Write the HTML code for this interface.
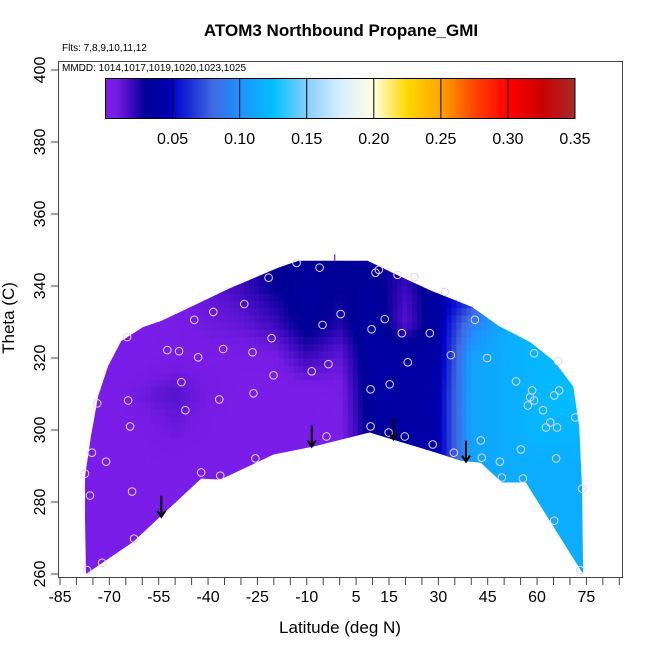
<!DOCTYPE html>
<html><head><meta charset="utf-8"><style>
html,body{margin:0;padding:0;background:#fff;}
svg{display:block;font-family:"Liberation Sans",Arial,sans-serif;}
</style></head><body>
<svg id="chart" width="650" height="650" viewBox="0 0 650 650" xmlns="http://www.w3.org/2000/svg">
<defs><clipPath id="fieldclip"><polygon id="clipPoly" points=""/></clipPath>
<linearGradient id="cbgrad" x1="0" x2="1" y1="0" y2="0"></linearGradient></defs>
<text x="341" y="36" text-anchor="middle" font-size="17" font-weight="bold">ATOM3 Northbound Propane_GMI</text>
<text x="62" y="51" font-size="10">Flts: 7,8,9,10,11,12</text>
<g id="field" clip-path="url(#fieldclip)"></g>
<g id="points"></g>
<g id="arrows"></g>
<rect x="58.5" y="61.5" width="564" height="516" fill="none" stroke="#444" stroke-width="1"/>
<text x="62" y="71" font-size="10">MMDD: 1014,1017,1019,1020,1023,1025</text>
<g id="colorbar"></g>
<g id="xaxis"></g>
<g id="yaxis"></g>
<text x="340" y="633" text-anchor="middle" font-size="17">Latitude (deg N)</text>
<text transform="translate(14,318) rotate(-90)" text-anchor="middle" font-size="17">Theta (C)</text>
</svg>
<script>
const gridLats = [-80,-70,-60,-50,-40,-30,-20,-10,0,10,20,30,40,50,60,70,80];
const gridThetas = [350,340,330,320,310,300,290,280,270,260];
const gridValues = [
 [.005,.005,.005,.008,.012,.02,.03,.03,.03,.025,.03,.035,.04,.11,.115,.12,.12],
 [.003,.003,.005,.008,.012,.02,.03,.035,.03,.035,.02,.04,.05,.115,.115,.12,.12],
 [.003,.003,.005,.006,.01,.012,.02,.035,.025,.04,.015,.04,.09,.115,.12,.12,.12],
 [.003,.003,.004,.006,.006,.006,.006,.02,.012,.04,.04,.04,.11,.115,.12,.12,.12],
 [.003,.005,.01,.015,.008,.004,.003,.003,.005,.04,.04,.045,.11,.115,.12,.125,.125],
 [.003,.003,.006,.01,.006,.004,.003,.003,.005,.035,.04,.045,.11,.115,.12,.12,.12],
 [.003,.003,.004,.005,.004,.003,.003,.003,.005,.035,.04,.045,.11,.115,.115,.115,.115],
 [.003,.003,.003,.003,.003,.003,.003,.003,.005,.035,.04,.045,.11,.115,.115,.115,.115],
 [.003,.003,.003,.003,.003,.003,.003,.003,.005,.035,.04,.045,.11,.115,.115,.115,.115],
 [.003,.003,.003,.003,.003,.003,.003,.003,.005,.035,.04,.045,.11,.115,.115,.115,.115]
];
const boundaryLats = [-77.1,-62.8,-54.2,-42.1,-36.3,-20.1,-7.9,9.1,28.3,36.8,42.9,49.3,56.6,74,73.7,72.8,71,65.2,57.9,48.4,40.2,28,18,8.5,-12.5,-18.6,-33.8,-44.5,-54.2,-59.7,-66.4,-70.4,-73.4,-75.6,-77.4,-77.4];
const boundaryThetas = [260,268.9,276.2,286.5,286.2,293.2,295.4,299.3,294,291.5,290.9,285.4,285.4,260,283.4,301,312.1,319.1,324.4,328.9,334.2,338.6,342.8,347,347,345.1,339.2,334.5,330.3,328.6,324.7,317.7,309.4,298.2,287,275.9];
const pointLats = [-13.1,-6.1,-21.6,-29,-38.4,-44.2,0.3,-5.2,-20.7,-64.6,-52.4,-48.8,-43,-35.4,-26.5,-3.4,-8.5,-20.1,-48.1,-26.2,-36.6,-64.3,-73.7,-46.9,-63.7,-4,-75.3,-71,-25.6,-42.1,-36.3,-77.4,-75.9,-63.1,-62.5,-72.2,-76.8,
 10.9,11.9,17.6,22.8,32,13.7,9.7,18.9,27.4,41.1,33.8,44.8,20.7,59.1,66.4,53.6,58.5,66.7,65.2,57.9,59.1,57.2,61.8,71.6,64,62.7,66.1,9.4,15.2,9.4,14.9,19.8,42.9,28.3,55.1,34.7,43.2,48.7,65.8,49.3,55.7,73.7,65.2,73.1];
const pointThetas = [346.4,345.1,342.3,335,332.8,330.6,332.2,329.2,325.5,325.8,322.2,321.9,320.2,322.5,321.6,318.3,316.3,315.2,313.3,310.2,308.5,308.2,307.4,305.5,301,298.2,293.7,291.2,292.1,288.2,287.3,287.9,281.8,282.9,269.8,263.1,261.1,
 343.7,344.5,343.1,342.5,338.4,330.8,328,326.9,326.9,330.6,320.8,320,318.8,321.3,319.1,313.5,311,311,309.6,309.1,308.2,306.8,305.5,303.5,302.1,300.7,300.7,311.3,312.7,301,299.3,298.2,297.1,296,294.6,293.7,292.3,291.2,292.1,286.8,286.5,283.7,274.8,261.1];
const arrowLats = [-54.2,-8.5,16.4,38.4];
const arrowThetas = [275.9,295.4,297.4,291.2];
const xTickValues = [-85,-70,-55,-40,-25,-10,5,15,30,45,60,75];
const yTickValues = [260,280,300,320,340,360,380,400];
const cbTickValues = [0.05,0.10,0.15,0.20,0.25,0.30,0.35];
const cbStopValues = [0,0.008,0.02,0.03,0.045,0.05,0.08,0.10,0.125,0.15,0.175,0.2,0.225,0.25,0.275,0.3,0.325,0.35];
const cbStopColors = [[125,30,235],[118,28,228],[60,10,190],[0,0,150],[0,0,170],[0,0,205],[65,105,225],[30,144,255],[0,191,255],[135,206,250],[215,238,255],[255,255,224],[255,215,0],[255,165,0],[255,69,0],[255,0,0],[205,0,0],[165,42,42]];

const NS='http://www.w3.org/2000/svg';
const X = lat => 60 + (lat + 85) * 3.29;
const Y = th => 70 + (400 - th) * 3.6;
function mk(tag, attrs, parent){const e=document.createElementNS(NS,tag);for(const k in attrs)e.setAttribute(k,attrs[k]);parent.appendChild(e);return e;}
function color(v){
  if(v<=cbStopValues[0]) return 'rgb('+cbStopColors[0].join(',')+')';
  for(let i=1;i<cbStopValues.length;i++){
    if(v<=cbStopValues[i]){const t=(v-cbStopValues[i-1])/(cbStopValues[i]-cbStopValues[i-1]);
      const a=cbStopColors[i-1],b=cbStopColors[i];
      return 'rgb('+a.map((c,j)=>Math.round(c+(b[j]-c)*t)).join(',')+')';}
  }
  return 'rgb('+cbStopColors[cbStopColors.length-1].join(',')+')';
}
function interp(lat,th){
  let i=0; while(i<gridLats.length-2 && lat>gridLats[i+1]) i++;
  let j=0; while(j<gridThetas.length-2 && th<gridThetas[j+1]) j++;
  let tx=(lat-gridLats[i])/(gridLats[i+1]-gridLats[i]); tx=Math.max(0,Math.min(1,tx));
  let ty=(gridThetas[j]-th)/(gridThetas[j]-gridThetas[j+1]); ty=Math.max(0,Math.min(1,ty));
  const a=gridValues[j][i],b=gridValues[j][i+1],c=gridValues[j+1][i],d=gridValues[j+1][i+1];
  return (a*(1-tx)+b*tx)*(1-ty)+(c*(1-tx)+d*tx)*ty;
}
document.getElementById('clipPoly').setAttribute('points', boundaryLats.map((l,i)=>X(l)+','+Y(boundaryThetas[i])).join(' '));
const field=document.getElementById('field');
const dLat=1.5, dTh=2;
for(let lat=-80; lat<80; lat+=dLat){
  for(let th=258; th<350; th+=dTh){
    const v=interp(lat+dLat/2, th+dTh/2);
    const r=mk('rect',{x:X(lat).toFixed(2),y:Y(th+dTh).toFixed(2),width:(dLat*3.29+0.6).toFixed(2),height:(dTh*3.6+0.6).toFixed(2),fill:color(v)},field);
    
    
  }
}
const tk=mk('line',{x1:X(-1.5),x2:X(-1.5),y1:Y(347),y2:Y(348.8),stroke:'#6a1fe0','stroke-width':1.2},field.parentNode);


const pg=document.getElementById('points');
pointLats.forEach((l,i)=>{
  const c=mk('circle',{cx:X(l),cy:Y(pointThetas[i]),r:3.8,fill:'none',stroke:'#e2d6ff','stroke-width':1},pg);
  
  
});
const ag=document.getElementById('arrows');
arrowLats.forEach((l,i)=>{
  const x=X(l), yb=Y(arrowThetas[i]), yt=yb-21;
  const g=mk('g',{},ag);
  
  
  mk('line',{x1:x,x2:x,y1:yt,y2:yb,stroke:'#000','stroke-width':2},g);
  mk('polyline',{points:(x-4)+','+(yb-6)+' '+x+','+yb+' '+(x+4)+','+(yb-6),fill:'none',stroke:'#000','stroke-width':2},g);
});
const grad=document.getElementById('cbgrad');
cbStopValues.forEach((v,i)=>{mk('stop',{offset:(v/0.35),'stop-color':'rgb('+cbStopColors[i].join(',')+')'},grad);});
const cb=document.getElementById('colorbar');
const CBX = v => 105.5 + v/0.35*(575-105.5);
const cbr=mk('rect',{x:105.5,y:78.5,width:469.5,height:40,fill:'url(#cbgrad)',stroke:'#000','stroke-width':1},cb);


cbTickValues.forEach(v=>{
  const l=mk('line',{x1:CBX(v),x2:CBX(v),y1:78.5,y2:118.5,stroke:'#000','stroke-width':1},cb);
  
  
  const t=mk('text',{x:CBX(v),y:144,'text-anchor':'middle','font-size':16},cb);
  t.textContent=v.toFixed(2);
  
  
});
const xg=document.getElementById('xaxis');
for(let l=-85; l<=85; l+=5){
  const tl=mk('line',{x1:X(l),x2:X(l),y1:578,y2:585,stroke:'#444','stroke-width':1},xg);
  
  
}
xTickValues.forEach(v=>{
  const t=mk('text',{x:X(v),y:602,'text-anchor':'middle','font-size':16},xg);
  t.textContent=v;
  
  
});
const yg=document.getElementById('yaxis');
yTickValues.forEach(v=>{
  const tl=mk('line',{x1:51,x2:58.5,y1:Y(v),y2:Y(v),stroke:'#444','stroke-width':1},yg);
  
  
  const t=mk('text',{transform:'translate(45,'+Y(v)+') rotate(-90)','text-anchor':'middle','font-size':16},yg);
  t.textContent=v;
  
  
});
</script>
</body></html>
